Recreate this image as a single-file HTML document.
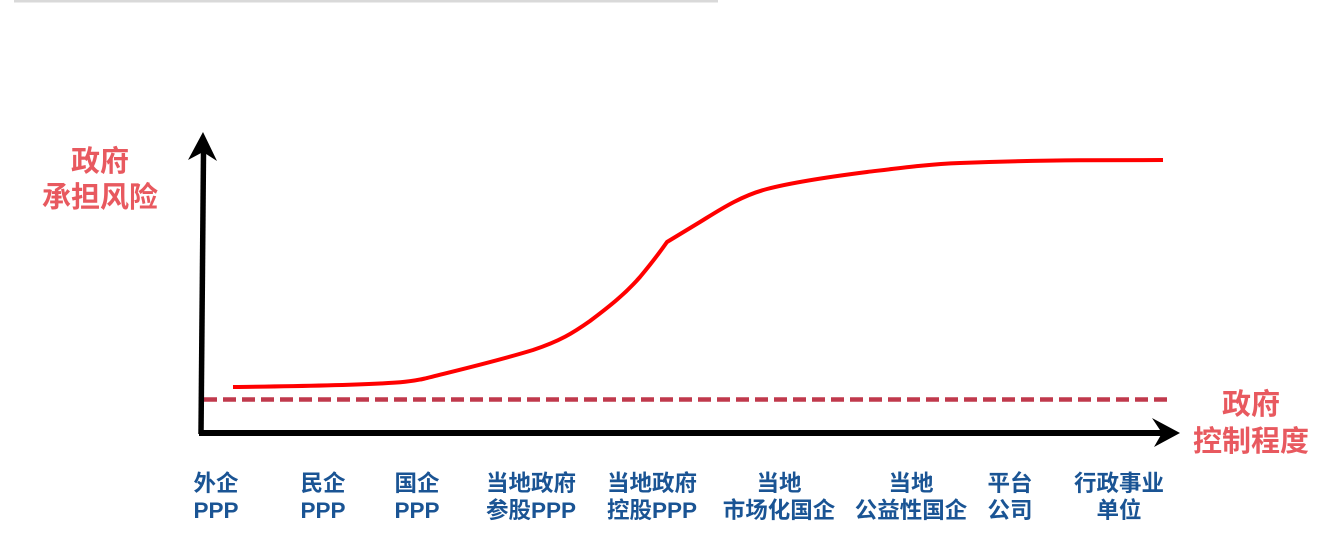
<!DOCTYPE html>
<html>
<head>
<meta charset="utf-8">
<style>
  html,body{margin:0;padding:0;background:#fff;}
  svg{display:block;}
  .cjk{font-family:"Liberation Sans","Noto Sans CJK SC","WenQuanYi Zen Hei",sans-serif;font-weight:bold;}
</style>
</head>
<body>
<svg width="1327" height="540" viewBox="0 0 1327 540" xmlns="http://www.w3.org/2000/svg">
  <rect x="0" y="0" width="1327" height="540" fill="#ffffff"/>
  <rect x="14" y="0" width="704" height="2.5" fill="#d9d9d9"/>

  <!-- dashed baseline -->
  <line x1="204" y1="399.5" x2="1170" y2="399.5" stroke="#c0394c" stroke-width="4.5" stroke-dasharray="13 6"/>

  <!-- y axis -->
  <line x1="203.5" y1="152" x2="201" y2="434" stroke="#000" stroke-width="5.5"/>
  <polygon points="203,132 217,161 203,152 188,160" fill="#000"/>

  <!-- x axis -->
  <line x1="199" y1="433" x2="1162" y2="433" stroke="#000" stroke-width="6"/>
  <polygon points="1180,433 1154,447 1162,433 1152,418" fill="#000"/>

  <!-- red curve -->
  <path d="M233,387 C270,386.5 330,386 380,383.5 C400,382.5 412,381.5 425,378.5 C450,372 490,363 533,350 C560,341 573,333 590,321 C610,306 625,294 640,277 C650,265 660,252 667,242 L700,222 C718,211 740,196 767,189 C790,183 820,178 867,172 C900,168 930,164 960,163 C1000,161.5 1040,160.5 1080,160.3 C1110,160 1140,160 1163,160" fill="none" stroke="#ff0000" stroke-width="4" stroke-linejoin="round"/>

  <!-- axis labels -->
  <g class="cjk" fill="#e8595f" font-size="29" text-anchor="middle">
    <text x="100" y="171">政府</text>
    <text x="100" y="207">承担风险</text>
    <text x="1251" y="414">政府</text>
    <text x="1251" y="451">控制程度</text>
  </g>

  <!-- category labels -->
  <g class="cjk" fill="#1a5494" font-size="22.5" text-anchor="middle">
    <text x="216" y="491">外企</text>
    <text x="216" y="518">PPP</text>
    <text x="323" y="491">民企</text>
    <text x="323" y="518">PPP</text>
    <text x="417" y="491">国企</text>
    <text x="417" y="518">PPP</text>
    <text x="531" y="491">当地政府</text>
    <text x="531" y="518">参股PPP</text>
    <text x="652" y="491">当地政府</text>
    <text x="652" y="518">控股PPP</text>
    <text x="779" y="491">当地</text>
    <text x="779" y="518">市场化国企</text>
    <text x="911" y="491">当地</text>
    <text x="911" y="518">公益性国企</text>
    <text x="1010" y="491">平台</text>
    <text x="1010" y="518">公司</text>
    <text x="1119" y="491">行政事业</text>
    <text x="1119" y="518">单位</text>
  </g>
</svg>
</body>
</html>
